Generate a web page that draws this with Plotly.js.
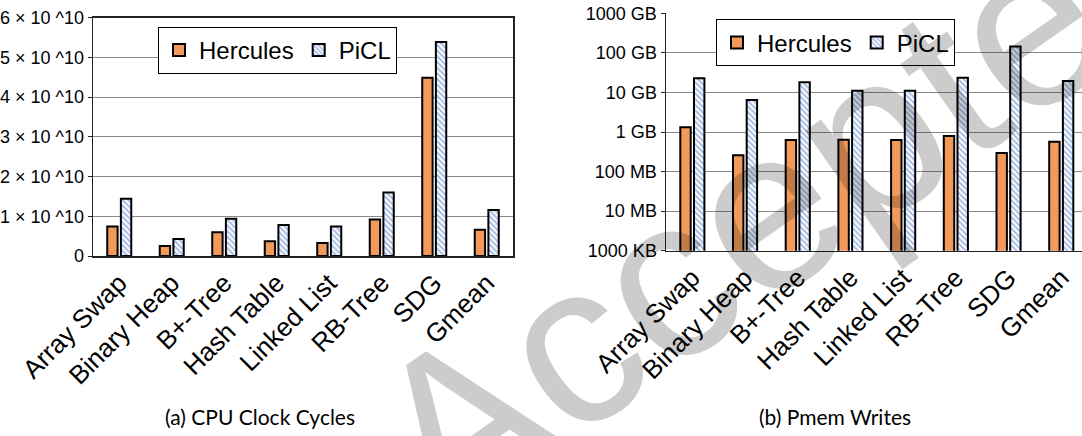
<!DOCTYPE html>
<html>
<head>
<meta charset="utf-8">
<script src="https://cdn.plot.ly/plotly-3.0.1.min.js"></script>
<style>
  html, body { margin: 0; padding: 0; background: #fff; }
  #chart { width: 1082px; height: 436px; }
</style>
</head>
<body>
<div id="chart"></div>
<script>
// ---- data ----
var categories = ["Array Swap", "Binary Heap", "B+-Tree", "Hash Table", "Linked List", "RB-Tree", "SDG", "Gmean"];
var seriesNames = ["Hercules", "PiCL"];
var cyclesHercules = [0.74e10, 0.25e10, 0.60e10, 0.37e10, 0.33e10, 0.92e10, 4.49e10, 0.66e10];
var cyclesPiCL     = [1.44e10, 0.43e10, 0.94e10, 0.78e10, 0.74e10, 1.60e10, 5.39e10, 1.16e10];
var writesHercules = [1.32e9, 2.57e8, 6.3e8, 6.4e8, 6.3e8, 7.9e8, 2.95e8, 5.7e8];
var writesPiCL     = [2.27e10, 6.4e9, 1.8e10, 1.1e10, 1.1e10, 2.36e10, 1.44e11, 1.95e10];
var cyclesTickVals = [0, 1e10, 2e10, 3e10, 4e10, 5e10, 6e10];
var cyclesTickText = ["0", "1 × 10 ^10", "2 × 10 ^10", "3 × 10 ^10", "4 × 10 ^10", "5 × 10 ^10", "6 × 10 ^10"];
var writesTickVals = [1e6, 1e7, 1e8, 1e9, 1e10, 1e11, 1e12];
var writesTickText = ["1000 KB", "10 MB", "100 MB", "1 GB", "10 GB", "100 GB", "1000 GB"];
var captions = ["(a) CPU Clock Cycles", "(b) Pmem Writes"];
var watermark = "Accepted";

// ---- styles ----
var W = 1082, H = 436;
var orange = "#F29A5A";
var hatchBlue = "#4A78CC";
var sansFont = "Arial, 'Liberation Sans', sans-serif";

function herculesMarker() {
  return { color: orange, line: { color: "#000", width: 2 } };
}
function piclMarker() {
  return {
    color: "#ffffff",
    line: { color: "#000", width: 2 },
    pattern: { shape: "\\", fgcolor: hatchBlue, bgcolor: "#ffffff", size: 4, solidity: 0.5, fillmode: "overlay" }
  };
}

var traces = [
  { type: "bar", name: seriesNames[0], x: categories, y: cyclesHercules, xaxis: "x", yaxis: "y",
    marker: herculesMarker(), legend: "legend" },
  { type: "bar", name: seriesNames[1], x: categories, y: cyclesPiCL, xaxis: "x", yaxis: "y",
    marker: piclMarker(), legend: "legend" },
  { type: "bar", name: seriesNames[0], x: categories, y: writesHercules, xaxis: "x2", yaxis: "y2",
    marker: herculesMarker(), legend: "legend2" },
  { type: "bar", name: seriesNames[1], x: categories, y: writesPiCL, xaxis: "x2", yaxis: "y2",
    marker: piclMarker(), legend: "legend2" }
];

function px(x) { return x / W; }
function py(y) { return 1 - y / H; }

var catW = 52.7;
var rightRangeEnd = -0.5 + (W - 666) / catW;

var axisCommon = {
  showline: true, linecolor: "#222", linewidth: 1.5,
  ticks: "outside", ticklen: 4, tickcolor: "#222", tickwidth: 1,
  tickfont: { family: sansFont, size: 18, color: "#000" },
  zeroline: false, fixedrange: true
};

var layout = {
  width: W, height: H,
  margin: { l: 0, r: 0, t: 0, b: 0, pad: 0 },
  paper_bgcolor: "#fff", plot_bgcolor: "#fff",
  barmode: "group", bargap: 0.48, bargroupgap: 0.24,
  showlegend: true,
  font: { family: sansFont, color: "#000" },
  xaxis: Object.assign({}, axisCommon, {
    domain: [px(93), px(513)], anchor: "y", type: "category",
    range: [-0.5, 7.5], mirror: true, showgrid: false,
    tickangle: -45, tickfont: { family: sansFont, size: 26, color: "#000" }, ticks: ""
  }),
  yaxis: Object.assign({}, axisCommon, {
    domain: [py(256), py(17.7)], anchor: "x",
    range: [0, 6e10], mirror: true, showgrid: true, gridcolor: "#8a8a8a", gridwidth: 1,
    tickmode: "array", tickvals: cyclesTickVals, ticktext: cyclesTickText
  }),
  xaxis2: Object.assign({}, axisCommon, {
    domain: [px(666), 1], anchor: "y2", type: "category",
    range: [-0.5, rightRangeEnd], mirror: false, showgrid: false,
    tickangle: -45, tickfont: { family: sansFont, size: 26, color: "#000" }, ticks: ""
  }),
  yaxis2: Object.assign({}, axisCommon, {
    domain: [py(250.7), py(13.3)], anchor: "x2", type: "log",
    range: [6, 12], mirror: false, showgrid: true, gridcolor: "#8a8a8a", gridwidth: 1,
    tickmode: "array", tickvals: writesTickVals, ticktext: writesTickText
  }),
  legend: {
    x: px(158), y: py(27), xanchor: "left", yanchor: "top", orientation: "h",
    bgcolor: "#fff", bordercolor: "#000", borderwidth: 1,
    font: { family: sansFont, size: 24, color: "#000" }, itemclick: false
  },
  legend2: {
    x: px(716), y: py(19.3), xanchor: "left", yanchor: "top", orientation: "h",
    bgcolor: "#fff", bordercolor: "#000", borderwidth: 1,
    font: { family: sansFont, size: 24, color: "#000" }, itemclick: false
  },
  annotations: [
    { text: captions[0], xref: "paper", yref: "paper", x: px(260), y: py(416), xanchor: "center", yanchor: "middle",
      showarrow: false, font: { family: "Lato, 'Open Sans', sans-serif", size: 21, color: "#000" } },
    { text: captions[1], xref: "paper", yref: "paper", x: px(835), y: py(416), xanchor: "center", yanchor: "middle",
      showarrow: false, font: { family: "Lato, 'Open Sans', sans-serif", size: 21, color: "#000" } },
    { text: watermark, xref: "paper", yref: "paper", x: px(790), y: py(192), xanchor: "center", yanchor: "middle",
      textangle: -35, showarrow: false,
      font: { family: sansFont, size: 230, color: "rgba(0,0,0,0.2)" } }
  ]
};

Plotly.newPlot("chart", traces, layout, { staticPlot: true, displayModeBar: false });
</script>
</body>
</html>
